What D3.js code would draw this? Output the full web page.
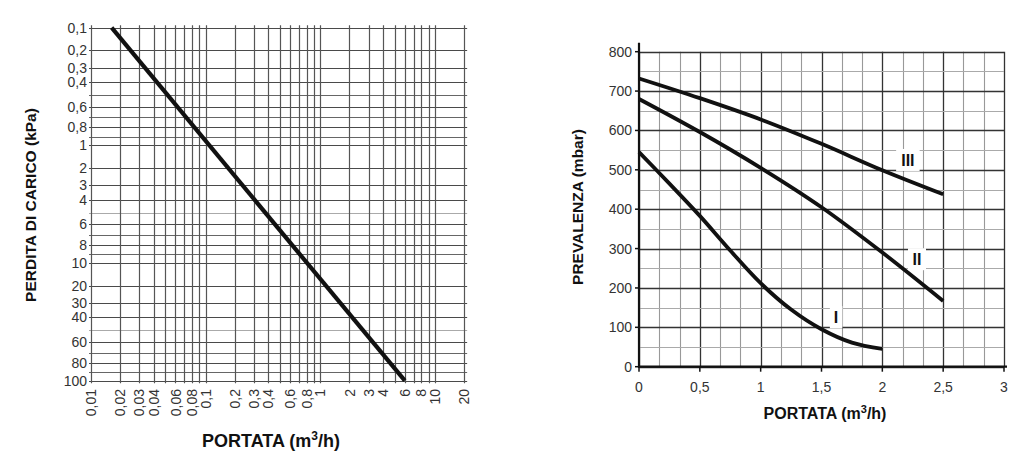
<!DOCTYPE html>
<html><head><meta charset="utf-8">
<script src="https://cdn.jsdelivr.net/npm/d3@7"></script>
<style>html,body{margin:0;padding:0;background:#fff;}svg{display:block;font-family:"Liberation Sans",Arial,sans-serif;}</style>
</head><body>
<svg id="c" width="1024" height="459"></svg>
<script>
// ---- Left chart data (pressure drop vs flow) ----
const leftXTicks = [0.01,0.02,0.03,0.04,0.06,0.08,0.1,0.2,0.3,0.4,0.6,0.8,1,2,3,4,6,8,10,20];
const leftXGrid = [0.01,0.02,0.03,0.04,0.05,0.06,0.07,0.08,0.09,0.1,0.2,0.3,0.4,0.5,0.6,0.7,0.8,0.9,1,2,3,4,5,6,7,8,9,10,20];
const leftYTicks = [0.1,0.2,0.3,0.4,0.6,0.8,1,2,3,4,6,8,10,20,30,40,60,80,100];
const leftYGrid = [0.1,0.2,0.3,0.4,0.5,0.6,0.7,0.8,0.9,1,2,3,4,5,6,7,8,9,10,20,30,40,50,60,70,80,90,100];
const lossFlow = [0.0165, 6];
const lossKPa = [0.1, 100];

// ---- Right chart data (pump head vs flow) ----
const rightXTicks = [0,0.5,1,1.5,2,2.5,3];
const rightYTicks = [0,100,200,300,400,500,600,700,800];
const speedIFlow = [0,0.25,0.5,0.75,1,1.25,1.5,1.75,2];
const speedIHead = [545,465,383,295,212,145,95,61,45];
const speedIIFlow = [0,0.5,1,1.5,2,2.5];
const speedIIHead = [680,596,505,405,290,167];
const speedIIIFlow = [0,0.5,1,1.5,2,2.5];
const speedIIIHead = [732,682,628,566,499,438];
const curveNames = ["I","II","III"];
const labelFlow = [1.62, 2.285, 2.21];
const labelHead = [126, 273, 525];

const fmt = v => String(v).replace('.', ',');
const svg = d3.select('#c');

// ===== LEFT CHART (hand-drawn style log grid) =====
function warp(v, p){
  const e = Math.floor(Math.log10(v) + 1e-9);
  const r = v / Math.pow(10, e);
  return e + (Math.pow(r, p) - 1) / (Math.pow(10, p) - 1);
}
const wx = v => warp(v, 0.2), wy = v => warp(v, 0.5);
const xLin = d3.scaleLinear().domain([wx(0.01), wx(10)]).range([91, 435]);
const yLin = d3.scaleLinear().domain([wy(0.1), wy(100)]).range([27.7, 380.7]);
const xL = v => xLin(wx(v)), yL = v => yLin(wy(v));

const gL = svg.append('g');
const xMinL = xL(0.01) - 2, xMaxL = xL(20) + 3;
const yMinL = yL(0.1) - 2.5, yMaxL = yL(100) + 2.5;
gL.selectAll('line.h').data(leftYGrid).enter().append('line')
  .attr('x1', xMinL).attr('x2', xMaxL)
  .attr('y1', d => Math.round(yL(d)) + 0.5).attr('y2', d => Math.round(yL(d)) + 0.5)
  .attr('stroke', d => (leftYTicks.includes(d) ? '#4a4a4a' : (d===5||d===50 ? '#aaa' : '#666')))
  .attr('stroke-width', 1.2);
gL.selectAll('line.v').data(leftXGrid).enter().append('line')
  .attr('x1', d => Math.round(xL(d)) + 0.5).attr('x2', d => Math.round(xL(d)) + 0.5)
  .attr('y1', yMinL).attr('y2', yMaxL)
  .attr('stroke', '#555').attr('stroke-width', 1.2);

gL.selectAll('text.yt').data(leftYTicks).enter().append('text')
  .attr('x', 87).attr('y', d => yL(d)).attr('dy', '0.36em')
  .attr('text-anchor', 'end').attr('font-size', 14).attr('fill', '#333')
  .text(fmt);
gL.selectAll('text.xt').data(leftXTicks).enter().append('text')
  .attr('transform', d => `translate(${xL(d)},389) rotate(-90)`)
  .attr('dy', '0.36em').attr('text-anchor', 'end').attr('font-size', 14).attr('fill', '#333')
  .text(fmt);

const lossPts = lossFlow.map((f, i) => [f, lossKPa[i]]);
gL.append('path').datum(lossPts)
  .attr('d', d3.line().x(d => xL(d[0])).y(d => yL(d[1])))
  .attr('fill', 'none').attr('stroke', '#111').attr('stroke-width', 4.2);

gL.append('text').attr('transform', 'translate(36,205) rotate(-90)')
  .attr('text-anchor', 'middle').attr('font-size', 15.5).attr('font-weight', 'bold').attr('fill', '#111')
  .text('PERDITA DI CARICO (kPa)');
const tl = gL.append('text').attr('x', 271).attr('y', 447)
  .attr('text-anchor', 'middle').attr('font-size', 18).attr('font-weight', 'bold').attr('fill', '#111');
tl.append('tspan').text('PORTATA (m');
tl.append('tspan').attr('font-size', 12).attr('dy', -7).text('3');
tl.append('tspan').attr('dy', 7).text('/h)');

// ===== RIGHT CHART =====
const xR = d3.scaleLinear().domain([0, 3]).range([639, 1004]);
const yR = d3.scaleLinear().domain([0, 800]).range([366.7, 51.7]);
const gR = svg.append('g');

const vMinor = d3.range(0, 18 + 1).map(i => i / 6);
gR.selectAll('line.vm').data(vMinor).enter().append('line')
  .attr('x1', d => Math.round(xR(d)) + 0.5).attr('x2', d => Math.round(xR(d)) + 0.5)
  .attr('y1', yR(800)).attr('y2', yR(0))
  .attr('stroke', d => (Math.abs(d*2 - Math.round(d*2)) < 1e-6 ? '#333' : '#999'))
  .attr('stroke-width', d => (Math.abs(d*2 - Math.round(d*2)) < 1e-6 ? 1.3 : 1.1));
const hLines = d3.range(0, 801, 50);
gR.selectAll('line.hm').data(hLines).enter().append('line')
  .attr('x1', xR(0)).attr('x2', xR(3))
  .attr('y1', d => Math.round(yR(d)) + 0.5).attr('y2', d => Math.round(yR(d)) + 0.5)
  .attr('stroke', d => (d % 100 === 0 ? '#333' : '#aaa'))
  .attr('stroke-width', d => (d % 100 === 0 ? 1.3 : 1.1));

// axes
gR.append('line').attr('x1', xR(0)).attr('x2', xR(0)).attr('y1', yR(800) - 9).attr('y2', yR(0) + 1)
  .attr('stroke', '#111').attr('stroke-width', 2.2);
gR.append('line').attr('x1', xR(0) - 1).attr('x2', xR(3) + 3).attr('y1', yR(0)).attr('y2', yR(0))
  .attr('stroke', '#111').attr('stroke-width', 2.2);
gR.selectAll('line.xtick').data(rightXTicks).enter().append('line')
  .attr('x1', d => xR(d)).attr('x2', d => xR(d)).attr('y1', yR(0)).attr('y2', yR(0) + 5)
  .attr('stroke', '#111').attr('stroke-width', 1.5);
gR.selectAll('line.ytick').data(rightYTicks).enter().append('line')
  .attr('x1', xR(0) - 4).attr('x2', xR(0)).attr('y1', d => yR(d)).attr('y2', d => yR(d))
  .attr('stroke', '#111').attr('stroke-width', 1.5);

gR.selectAll('text.yt').data(rightYTicks).enter().append('text')
  .attr('x', 632).attr('y', d => yR(d)).attr('dy', '0.36em')
  .attr('text-anchor', 'end').attr('font-size', 14).attr('fill', '#333').text(d => d);
gR.selectAll('text.xt').data(rightXTicks).enter().append('text')
  .attr('x', d => xR(d)).attr('y', 387).attr('dy', '0.36em')
  .attr('text-anchor', 'middle').attr('font-size', 14).attr('fill', '#333').text(fmt);

const series = [
  speedIFlow.map((f, i) => [f, speedIHead[i]]),
  speedIIFlow.map((f, i) => [f, speedIIHead[i]]),
  speedIIIFlow.map((f, i) => [f, speedIIIHead[i]])
];
const line = d3.line().x(d => xR(d[0])).y(d => yR(d[1])).curve(d3.curveCatmullRom.alpha(0.5));
gR.selectAll('path.curve').data(series).enter().append('path')
  .attr('d', line).attr('fill', 'none').attr('stroke', '#111').attr('stroke-width', 3.8)
  .attr('stroke-linecap', 'butt');

curveNames.forEach((n, i) => {
  const cx = xR(labelFlow[i]), cy = yR(labelHead[i]);
  const w = 7 + n.length * 5.5;
  gR.append('rect').attr('x', cx - w / 2).attr('y', cy - 11).attr('width', w).attr('height', 22).attr('fill', '#fff');
  gR.append('text').attr('x', cx).attr('y', cy).attr('dy', '0.36em').attr('text-anchor', 'middle')
    .attr('font-size', 16).attr('font-weight', 'bold').attr('fill', '#111').text(n);
});

gR.append('text').attr('transform', 'translate(583,207) rotate(-90)')
  .attr('text-anchor', 'middle').attr('font-size', 15.5).attr('font-weight', 'bold').attr('fill', '#111')
  .text('PREVALENZA (mbar)');
const tr = gR.append('text').attr('x', 825).attr('y', 419)
  .attr('text-anchor', 'middle').attr('font-size', 16).attr('font-weight', 'bold').attr('fill', '#111');
tr.append('tspan').text('PORTATA (m');
tr.append('tspan').attr('font-size', 11).attr('dy', -6).text('3');
tr.append('tspan').attr('dy', 6).text('/h)');
</script>
</body></html>
